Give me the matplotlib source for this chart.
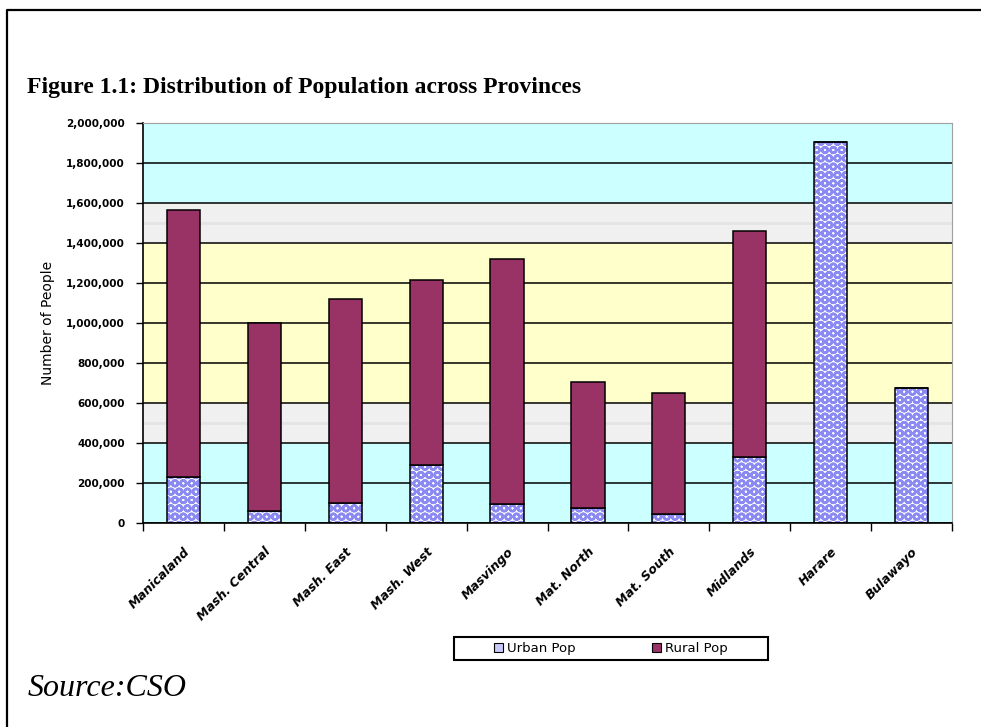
import numpy as np
import matplotlib
matplotlib.use("Agg")
import matplotlib.pyplot as plt
from matplotlib.lines import Line2D
from matplotlib.patches import Patch, Rectangle
from matplotlib.ticker import FixedLocator, StrMethodFormatter

provinces = ['Manicaland', 'Mash. Central', 'Mash. East', 'Mash. West', 'Masvingo',
             'Mat. North', 'Mat. South', 'Midlands', 'Harare', 'Bulawayo']
urban_pop = [232000, 60000, 101000, 290000, 93000, 77000, 43000, 332000, 1906000, 673000]
rural_pop = [1333000, 938000, 1019000, 925000, 1225000, 626000, 607000, 1128000, 0, 0]

# background bands (from, to, colour)
band_lo = [0, 400000, 600000, 1400000, 1600000]
band_hi = [400000, 600000, 1400000, 1600000, 2000000]
band_col = ['#CCFFFF', '#F0F0F0', '#FFFFCC', '#F0F0F0', '#CCFFFF']

urban_col = '#8A8AF2'
rural_col = '#993366'

plt.rcParams['hatch.linewidth'] = 1.8

fig = plt.figure(figsize=(9.81, 7.27), dpi=100)
ax = fig.add_axes([143/981, 1 - 523/727, 809/981, 400/727])

for lo, hi, c in zip(band_lo, band_hi, band_col):
    ax.axhspan(lo, hi, color=c, zorder=0, lw=0)
for lo, hi, c in zip(band_lo, band_hi, band_col):
    if c == '#F0F0F0':
        ax.axhline((lo + hi) / 2, color='#E4E4E4', lw=2, zorder=0.5)

ax.yaxis.grid(True, color='black', lw=1.1, zorder=1)
ax.set_axisbelow(True)

x = np.arange(len(provinces))
w = 0.41
ax.bar(x, urban_pop, w, facecolor='white', hatch='OO', edgecolor=urban_col, lw=0, zorder=2)
ax.bar(x, urban_pop, w, fill=False, edgecolor='black', lw=1.1, zorder=3)
ax.bar(x, rural_pop, w, bottom=urban_pop, color=rural_col, edgecolor='black', lw=1.1, zorder=3)

ax.set_xlim(-0.5, len(provinces) - 0.5)
ax.set_ylim(0, 2000000)
ax.set_yticks(np.arange(0, 2000001, 200000))
ax.yaxis.set_major_formatter(StrMethodFormatter('{x:,.0f}'))
ax.tick_params(axis='y', labelsize=7.5, length=5, width=1, pad=8)
for t in ax.get_yticklabels():
    t.set_fontweight('bold')

ax.set_xticks(x)
ax.set_xticklabels(provinces, rotation=45, ha='right', rotation_mode='anchor',
                   fontsize=9, fontweight='bold', fontstyle='italic')
ax.tick_params(axis='x', which='major', length=0, pad=16)
ax.xaxis.set_minor_locator(FixedLocator(np.arange(-0.5, len(provinces), 1)))
ax.tick_params(axis='x', which='minor', length=6, width=1)

ax.set_ylabel('Number of People', fontsize=10, labelpad=8)

ax.spines['top'].set_color('#A0A0A0')
ax.spines['right'].set_color('#A0A0A0')
ax.spines['left'].set_linewidth(1.2)
ax.spines['bottom'].set_linewidth(1.2)

# legend with its own box
fig.add_artist(Rectangle((454/981, 1 - 660/727), 314/981, 23/727, transform=fig.transFigure,
                         facecolor='white', edgecolor='black', lw=1.5))
handles = [Patch(facecolor='#C8C8FA', edgecolor='black', lw=0.8),
           Patch(facecolor=rural_col, edgecolor='black', lw=0.8)]
leg = fig.legend(handles, ['Urban Pop', 'Rural Pop'], loc='center',
                 bbox_to_anchor=(611/981, 1 - 648.5/727), ncol=2, fontsize=9.5,
                 frameon=False, handlelength=0.7, handleheight=0.7, handletextpad=0.3,
                 columnspacing=5.8, borderpad=0.2, borderaxespad=0)

fig.text(27/981, 1 - 88/727, 'Figure 1.1: Distribution of Population across Provinces',
         family='Liberation Serif', fontweight='bold', fontsize=17, va='center', ha='left')
fig.text(28/981, 1 - 688/727, 'Source:CSO', family='Liberation Serif', fontstyle='italic',
         fontsize=23, va='center', ha='left')

# outer frame
fig.add_artist(Line2D([7/981, 7/981, 1.0], [0, 1 - 10/727, 1 - 10/727],
                      color='black', lw=1.6, transform=fig.transFigure))

fig.savefig('out.png', dpi=100)
